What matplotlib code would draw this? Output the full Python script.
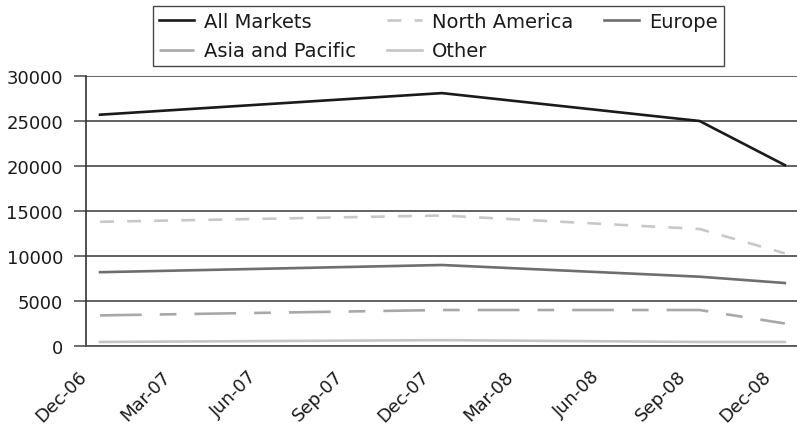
import matplotlib
matplotlib.use("Agg")
import matplotlib.pyplot as plt
import matplotlib.dates as mdates
from matplotlib.transforms import ScaledTranslation
import pandas as pd

plt.rcParams['font.family'] = ['DejaVu Sans']
plt.rcParams['lines.scale_dashes'] = False

dates = pd.to_datetime(['2006-12-01', '2007-12-01', '2008-09-01', '2008-12-01'])
all_markets = [25700, 28100, 25000, 20100]
north_america = [13800, 14500, 13000, 10300]
europe = [8200, 9000, 7700, 7000]
asia_pacific = [3400, 4000, 4000, 2500]
other = [450, 650, 450, 450]
yticks = [0, 5000, 10000, 15000, 20000, 25000, 30000]

fig = plt.figure(figsize=(7.97, 4.27), dpi=100)
ax = fig.add_axes([86/797, 1 - 347/427, 1 - 86/797, 270/427])

lw = 1.9
h_all, = ax.plot(dates, all_markets, color='#1a1a1a', lw=lw, label='All Markets')
h_na, = ax.plot(dates, north_america, color='#c8c8c8', lw=lw, dashes=(10, 9.5), label='North America')
h_eu, = ax.plot(dates, europe, color='#6e6e6e', lw=lw, label='Europe')
h_ap, = ax.plot(dates, asia_pacific, color='#a8a8a8', lw=lw, dashes=(30, 13, 12, 13), label='Asia and Pacific')
h_ot, = ax.plot(dates, other, color='#c4c4c4', lw=lw, label='Other')

ax.set_ylim(0, 30000)
ax.set_yticks(yticks)
ax.set_xlim(pd.Timestamp('2006-11-16'), pd.Timestamp('2008-12-14'))
ax.xaxis.set_major_locator(mdates.MonthLocator(bymonth=[3, 6, 9, 12]))
ax.xaxis.set_major_formatter(mdates.DateFormatter('%b-%y'))

ax.grid(axis='y', color='#555555', lw=1.3)
ax.set_axisbelow(True)
for s in ['top', 'right']:
    ax.spines[s].set_visible(False)
ax.spines['left'].set_color('#333333')
ax.spines['left'].set_linewidth(1.2)
ax.spines['bottom'].set_color('#555555')
ax.spines['bottom'].set_linewidth(1.3)

ax.tick_params(axis='y', length=8.6, width=1.2, color='#555555', labelsize=13, pad=8, labelcolor='#1a1a1a')
ax.tick_params(axis='x', length=0, labelsize=13, pad=15, labelcolor='#1a1a1a')

handles = [h_all, h_ap, h_na, h_ot, h_eu]
leg = fig.legend(handles=handles, labels=[h.get_label() for h in handles],
                 ncol=3, loc='upper left', bbox_to_anchor=(153/797, 1 - 7/427),
                 fontsize=14, frameon=True, fancybox=False, handlelength=1.8,
                 handletextpad=0.51, columnspacing=1.6, labelspacing=0.54,
                 borderpad=0.3, borderaxespad=0)
leg.get_frame().set_edgecolor('#1a1a1a')
leg.get_frame().set_linewidth(1.0)
for t in leg.get_texts():
    t.set_color('#1a1a1a')

fig.canvas.draw()
offset = ScaledTranslation(-10/100, 0, fig.dpi_scale_trans)
for lab in ax.xaxis.get_majorticklabels():
    lab.set_rotation(45)
    lab.set_ha('right')
    lab.set_va('top')
    lab.set_transform(lab.get_transform() + offset)

fig.savefig('out.png', dpi=100)
